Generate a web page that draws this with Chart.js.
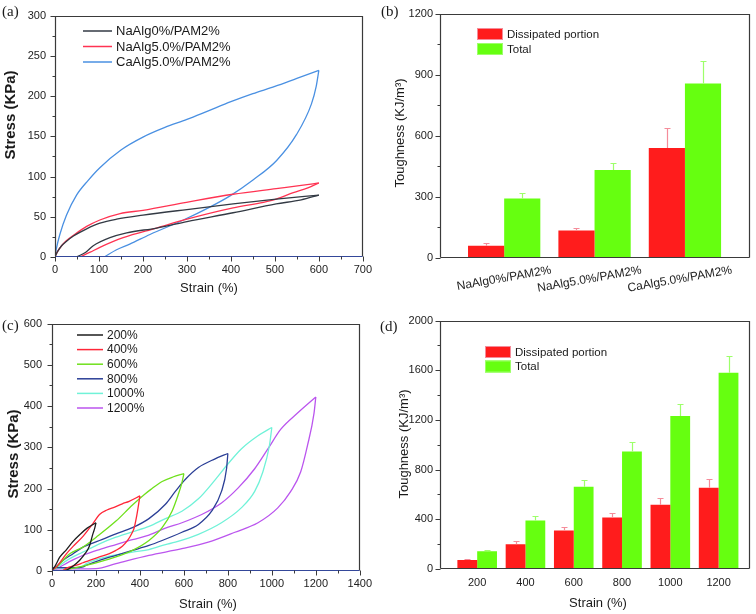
<!DOCTYPE html>
<html><head><meta charset="utf-8">
<script src="https://cdn.jsdelivr.net/npm/chart.js@4.4.1/dist/chart.umd.min.js"></script>
<style>
html,body{margin:0;padding:0;background:#fff;}
#wrap{position:relative;width:756px;height:614px;overflow:hidden;}
canvas{position:absolute;}
</style></head><body>
<div id="wrap">
<canvas id="ca" width="378" height="307" style="left:0;top:0"></canvas>
<canvas id="cb" width="378" height="307" style="left:378px;top:0"></canvas>
<canvas id="cc" width="378" height="307" style="left:0;top:307px"></canvas>
<canvas id="cd" width="378" height="307" style="left:378px;top:307px"></canvas>
</div>
<script>
// ---------- DATA: panel (a) stress-strain loops ----------
const aSeriesNames = ['NaAlg0%/PAM2%', 'NaAlg5.0%/PAM2%', 'CaAlg5.0%/PAM2%'];
const aNa0UpStrain = [0, 5, 15, 25, 42, 72, 102, 140, 200, 300, 405, 503, 600];
const aNa0UpStress = [0, 6, 14, 19, 26, 35, 42, 47, 52, 59, 66, 72, 77];
const aNa0DnStrain = [49, 70, 87, 125, 163, 231, 300, 405, 503, 560, 600];
const aNa0DnStress = [0, 6, 14, 24, 30, 36, 44, 55, 66, 71, 77];
const aNa5UpStrain = [0, 5, 15, 25, 42, 72, 102, 148, 200, 299, 405, 503, 560, 600];
const aNa5UpStress = [0, 6, 14, 20, 27, 38, 46, 54, 58, 68, 78, 85, 89, 92];
const aNa5DnStrain = [57, 80, 102, 155, 231, 300, 405, 474, 503, 542, 575, 600];
const aNa5DnStress = [0, 6, 12, 24, 36, 47, 61, 68, 72, 80, 86, 92];
const aCa5UpStrain = [0, 3, 11, 26, 49, 75, 102, 150, 200, 250, 300, 350, 400, 450, 500, 550, 600];
const aCa5UpStress = [0, 10, 28, 52, 77, 95, 111, 133, 149, 161, 171, 182, 193, 203, 212, 222, 232];
const aCa5DnStrain = [112, 140, 170, 216, 292, 352, 398, 451, 504, 549, 583, 594, 600];
const aCa5DnStress = [0, 9, 16, 28, 46, 62, 76, 96, 120, 152, 190, 212, 232];

// ---------- DATA: panel (b) toughness ----------
const bCategories = ['NaAlg0%/PAM2%', 'NaAlg5.0%/PAM2%', 'CaAlg5.0%/PAM2%'];
const bDissipated = [60, 135, 540];
const bDissipatedErr = [76, 145, 637];
const bTotal = [292, 432, 857];
const bTotalErr = [320, 465, 966];

// ---------- DATA: panel (c) cyclic loops ----------
const cSeriesNames = ['200%', '400%', '600%', '800%', '1000%', '1200%'];
const c200UpStrain = [0, 14, 36, 66, 96, 130, 160, 200];
const c200UpStress = [2, 12, 34, 52, 72, 90, 104, 117];
const c200DnStrain = [50, 66, 96, 126, 150, 170, 186, 195, 200];
const c200DnStress = [0, 2, 12, 26, 42, 60, 90, 105, 117];
const c400UpStrain = [0, 20, 66, 100, 141, 186, 216, 250, 276, 320, 351, 400];
const c400UpStress = [2, 10, 42, 62, 84, 115, 137, 148, 153, 163, 169, 182];
const c400DnStrain = [50, 66, 111, 141, 171, 216, 261, 291, 320, 344, 364, 374, 384, 392, 400];
const c400DnStress = [1, 7, 14, 20, 26, 34, 42, 50, 60, 74, 92, 105, 130, 155, 182];
const c600UpStrain = [0, 21, 81, 141, 201, 291, 366, 419, 450, 501, 550, 600];
const c600UpStress = [3, 10, 42, 58, 82, 121, 160, 185, 198, 217, 228, 236];
const c600DnStrain = [50, 81, 141, 216, 291, 366, 441, 501, 546, 574, 590, 600];
const c600DnStress = [2, 5, 12, 22, 34, 50, 74, 105, 145, 185, 212, 236];
const c800UpStrain = [0, 18, 51, 96, 141, 216, 291, 366, 441, 516, 561, 606, 666, 742, 800];
const c800UpStress = [2, 10, 26, 42, 58, 74, 90, 105, 127, 162, 193, 222, 251, 272, 285];
const c800DnStrain = [0, 100, 141, 156, 216, 291, 366, 441, 501, 591, 666, 726, 771, 794, 800];
const c800DnStress = [8, 8, 10, 14, 26, 38, 50, 62, 74, 94, 113, 145, 193, 248, 285];
const c1000UpStrain = [0, 14, 36, 81, 141, 216, 291, 366, 441, 516, 591, 666, 742, 801, 861, 937, 1000];
const c1000UpStress = [3, 5, 14, 30, 46, 66, 82, 95, 108, 127, 145, 175, 221, 260, 296, 328, 348];
const c1000DnStrain = [0, 126, 156, 216, 366, 441, 516, 561, 666, 771, 861, 922, 959, 989, 1000];
const c1000DnStress = [7, 8, 18, 30, 46, 52, 64, 70, 89, 117, 153, 193, 240, 304, 348];
const c1200UpStrain = [0, 20, 50, 100, 150, 216, 291, 366, 441, 516, 591, 681, 771, 846, 922, 982, 1041, 1117, 1200];
const c1200UpStress = [3, 5, 14, 28, 40, 52, 64, 76, 87, 104, 117, 137, 165, 201, 248, 296, 344, 383, 422];
const c1200DnStrain = [0, 200, 291, 441, 591, 711, 832, 937, 1027, 1086, 1131, 1162, 1192, 1200];
const c1200DnStress = [5, 6, 18, 38, 54, 70, 94, 117, 153, 193, 240, 304, 383, 422];

// ---------- DATA: panel (d) toughness vs strain ----------
const dStrain = [200, 400, 600, 800, 1000, 1200];
const dDissipated = [72, 199, 310, 414, 517, 655];
const dDissipatedErr = [82, 223, 337, 454, 568, 724];
const dTotal = [143, 390, 663, 947, 1231, 1581];
const dTotalErr = [151, 430, 716, 1021, 1326, 1716];

const barLabels = ['Dissipated portion', 'Total'];

// ---------- STYLE ----------
const FONT = '"Liberation Sans", Arial, Helvetica, sans-serif';
const SERIF = '"Liberation Serif", "Times New Roman", serif';
Chart.defaults.font.family = FONT;
Chart.defaults.color = '#222';
Chart.defaults.animation = false;

const aColors = ['#333a44', '#ff3352', '#4a90e2'];
const cColors = ['#1e1e1e', '#ff2638', '#6fe01c', '#2b3f96', '#70f2d8', '#bb55ee'];
const RED = '#ff1c1c', GREEN = '#66ff10';

function pts(xs, ys) { return xs.map((x, i) => ({ x: x, y: ys[i] })); }
function lineDS(label, xs, ys, color) {
  return { label: label, data: pts(xs, ys), borderColor: color, backgroundColor: color,
    showLine: true, pointRadius: 0, borderWidth: 1.3, cubicInterpolationMode: 'monotone', fill: false };
}
const plain = (v) => String(v);

// frame, minor ticks, legend, titles
const framePlugin = {
  id: 'frame',
  afterDraw(chart, args, o) {
    const ctx = chart.ctx, a = chart.chartArea;
    const L = Math.round(a.left) + 0.5, R = Math.round(a.right) - 0.5;
    const T = Math.round(a.top) + 0.5, B = Math.round(a.bottom) - 0.5;
    ctx.save();
    ctx.lineWidth = 1.2;
    ctx.strokeStyle = '#3a3a3a';
    ctx.beginPath(); ctx.moveTo(L, B); ctx.lineTo(L, T); ctx.lineTo(R, T); ctx.lineTo(R, B); ctx.stroke();
    ctx.strokeStyle = o.bottomColor || '#3a3a3a';
    ctx.beginPath(); ctx.moveTo(L, B); ctx.lineTo(R, B); ctx.stroke();
    ctx.lineWidth = 1;
    ctx.strokeStyle = '#3a3a3a';
    const isMaj = (v, m) => Math.abs(v / m - Math.round(v / m)) < 1e-6;
    if (o.xTicks) {
      const s = chart.scales.x, t = o.xTicks;
      for (let v = s.min; v <= s.max + 1e-9; v += t.minor) {
        const px = Math.round(s.getPixelForValue(v)) + 0.5;
        const len = isMaj(v, t.major) ? 5 : 3;
        ctx.beginPath(); ctx.moveTo(px, B); ctx.lineTo(px, B + len); ctx.stroke();
      }
    }
    if (o.yTicks) {
      const s = chart.scales.y, t = o.yTicks;
      for (let v = s.min; v <= s.max + 1e-9; v += t.minor) {
        const py = Math.round(s.getPixelForValue(v)) + 0.5;
        const len = isMaj(v, t.major) ? 5 : 3;
        ctx.beginPath(); ctx.moveTo(L, py); ctx.lineTo(L - len, py); ctx.stroke();
      }
    }
    (o.titles || []).forEach(t => {
      ctx.save();
      ctx.fillStyle = '#1a1a1a';
      ctx.font = t.font || ('13px ' + FONT);
      ctx.textAlign = t.align || 'center';
      ctx.textBaseline = t.baseline || 'middle';
      ctx.translate(t.x, t.y);
      if (t.rotate) ctx.rotate(t.rotate);
      ctx.fillText(t.text, 0, 0);
      ctx.restore();
    });
    const lg = o.legend;
    if (lg) {
      ctx.font = lg.font;
      ctx.textAlign = 'left';
      ctx.textBaseline = 'middle';
      chart.data.datasets.forEach((ds) => {
        if (ds.legendIndex === undefined) return;
        const y = lg.y + ds.legendIndex * lg.dy;
        if (lg.kind === 'line') {
          ctx.strokeStyle = ds.borderColor; ctx.lineWidth = 1.5;
          ctx.beginPath(); ctx.moveTo(lg.x, y); ctx.lineTo(lg.x + lg.len, y); ctx.stroke();
        } else {
          ctx.fillStyle = ds.backgroundColor;
          ctx.fillRect(lg.x, y - lg.h / 2, lg.len, lg.h);
          ctx.strokeStyle = ds.errColor; ctx.lineWidth = 1;
          ctx.strokeRect(lg.x + 0.5, y - lg.h / 2 + 0.5, lg.len - 1, lg.h - 1);
        }
        ctx.fillStyle = '#1a1a1a';
        ctx.fillText(ds.label, lg.x + lg.len + lg.gap, y + 0.5);
      });
    }
    ctx.restore();
  }
};

const errPlugin = {
  id: 'errbars',
  afterDatasetsDraw(chart) {
    const ctx = chart.ctx, ys = chart.scales.y;
    chart.data.datasets.forEach((ds, i) => {
      if (!ds.errUpper) return;
      const meta = chart.getDatasetMeta(i);
      ctx.save();
      ctx.strokeStyle = ds.errColor; ctx.lineWidth = 1.2;
      meta.data.forEach((bar, j) => {
        const x = Math.round(bar.x) + 0.5;
        const yt = Math.round(ys.getPixelForValue(ds.errUpper[j])) + 0.5;
        ctx.beginPath();
        ctx.moveTo(x, bar.y); ctx.lineTo(x, yt);
        ctx.moveTo(x - 3, yt); ctx.lineTo(x + 3, yt);
        ctx.stroke();
      });
      ctx.restore();
    });
  }
};

function linY(min, max, step, width, pad) {
  return { type: 'linear', min: min, max: max,
    ticks: { stepSize: step, padding: pad, font: { size: 11 }, color: '#222', callback: plain },
    grid: { display: false, drawTicks: false }, border: { display: false },
    afterFit(s) { s.width = width; } };
}
function linX(min, max, step, height, pad) {
  return { type: 'linear', min: min, max: max, offset: false,
    ticks: { stepSize: step, padding: pad, font: { size: 11 }, color: '#222', maxRotation: 0, autoSkip: false, callback: plain },
    grid: { display: false, drawTicks: false, offset: false }, border: { display: false },
    afterFit(s) { s.height = height; } };
}
const STRESS_FONT = 'bold 15px ' + FONT;

// ---------- (a) ----------
(function () {
  const sets = [
    [aNa0UpStrain, aNa0UpStress, aNa0DnStrain, aNa0DnStress],
    [aNa5UpStrain, aNa5UpStress, aNa5DnStrain, aNa5DnStress],
    [aCa5UpStrain, aCa5UpStress, aCa5DnStrain, aCa5DnStress]
  ];
  const datasets = [];
  sets.forEach((s, i) => {
    const up = lineDS(aSeriesNames[i], s[0], s[1], aColors[i]); up.legendIndex = i;
    const dn = lineDS(aSeriesNames[i], s[2], s[3], aColors[i]);
    datasets.push(up, dn);
  });
  new Chart(document.getElementById('ca'), {
    type: 'scatter',
    data: { datasets: datasets },
    options: {
      responsive: false, animation: false,
      layout: { padding: { top: 7, right: 15, left: 0, bottom: 0 } },
      scales: { x: linX(0, 700, 100, 50, 6), y: linY(0, 300, 50, 55, 9) },
      plugins: {
        legend: { display: false }, tooltip: { enabled: false },
        frame: {
          bottomColor: '#34489a',
          xTicks: { major: 100, minor: 50 }, yTicks: { major: 50, minor: 25 },
          legend: { kind: 'line', x: 83, y: 31, dy: 15.5, len: 29, gap: 4, font: '13px ' + FONT },
          titles: [
            { text: 'Stress (KPa)', x: 11, y: 115, rotate: -Math.PI / 2, font: STRESS_FONT },
            { text: 'Strain (%)', x: 209, y: 288 },
            { text: '(a)', x: 2, y: 5, align: 'left', baseline: 'top', font: '15px ' + SERIF }
          ]
        }
      }
    },
    plugins: [framePlugin]
  });
})();

// ---------- (b) ----------
(function () {
  new Chart(document.getElementById('cb'), {
    type: 'bar',
    data: { datasets: [
      { label: barLabels[0], data: bDissipated.map((y, i) => ({ x: i + 1, y: y })), backgroundColor: RED,
        errUpper: bDissipatedErr, errColor: '#f58c9a', legendIndex: 0 },
      { label: barLabels[1], data: bTotal.map((y, i) => ({ x: i + 1, y: y })), backgroundColor: GREEN,
        errUpper: bTotalErr, errColor: '#9dff6a', legendIndex: 1 }
    ] },
    options: {
      responsive: false, animation: false,
      datasets: { bar: { categoryPercentage: 0.8, barPercentage: 1 } },
      layout: { padding: { top: 7, right: 6, left: 0, bottom: 0 } },
      scales: {
        x: { type: 'linear', min: 0.29, max: 3.72, offset: false,
          afterBuildTicks(s) { s.ticks = bCategories.map((c, i) => ({ value: i + 1 })); },
          ticks: { callback: (v, i) => bCategories[i], minRotation: 10, maxRotation: 10, padding: 5,
            labelOffset: 47, autoSkip: false, font: { size: 12 }, color: '#222' },
          grid: { display: false, drawTicks: false, offset: false }, border: { display: false },
          afterFit(s) { s.height = 49; } },
        y: linY(0, 1200, 300, 62, 7)
      },
      plugins: {
        legend: { display: false }, tooltip: { enabled: false },
        frame: {
          yTicks: { major: 300, minor: 150 },
          legend: { kind: 'box', x: 99, y: 34, dy: 15, len: 26, h: 12, gap: 4, font: '11.5px ' + FONT },
          titles: [
            { text: 'Toughness (KJ/m\u00B3)', x: 22, y: 133, rotate: -Math.PI / 2 },
            { text: '(b)', x: 3, y: 5, align: 'left', baseline: 'top', font: '15px ' + SERIF }
          ]
        }
      }
    },
    plugins: [errPlugin, framePlugin]
  });
})();

// ---------- (c) ----------
(function () {
  const sets = [
    [c200UpStrain, c200UpStress, c200DnStrain, c200DnStress],
    [c400UpStrain, c400UpStress, c400DnStrain, c400DnStress],
    [c600UpStrain, c600UpStress, c600DnStrain, c600DnStress],
    [c800UpStrain, c800UpStress, c800DnStrain, c800DnStress],
    [c1000UpStrain, c1000UpStress, c1000DnStrain, c1000DnStress],
    [c1200UpStrain, c1200UpStress, c1200DnStrain, c1200DnStress]
  ];
  const datasets = [];
  sets.forEach((s, i) => {
    const up = lineDS(cSeriesNames[i], s[0], s[1], cColors[i]); up.legendIndex = i;
    const dn = lineDS(cSeriesNames[i], s[2], s[3], cColors[i]);
    datasets.push(up, dn);
  });
  new Chart(document.getElementById('cc'), {
    type: 'scatter',
    data: { datasets: datasets },
    options: {
      responsive: false, animation: false,
      layout: { padding: { top: 12, right: 15, left: 0, bottom: 0 } },
      scales: { x: linX(0, 1400, 200, 43, 6), y: linY(0, 600, 100, 52, 10) },
      plugins: {
        legend: { display: false }, tooltip: { enabled: false },
        frame: {
          bottomColor: '#34489a',
          xTicks: { major: 200, minor: 100 }, yTicks: { major: 100, minor: 50 },
          legend: { kind: 'line', x: 77, y: 28, dy: 14.6, len: 26, gap: 4, font: '12px ' + FONT },
          titles: [
            { text: 'Stress (KPa)', x: 14, y: 147, rotate: -Math.PI / 2, font: STRESS_FONT },
            { text: 'Strain (%)', x: 208, y: 297 },
            { text: '(c)', x: 2, y: 12, align: 'left', baseline: 'top', font: '15px ' + SERIF }
          ]
        }
      }
    },
    plugins: [framePlugin]
  });
})();

// ---------- (d) ----------
(function () {
  new Chart(document.getElementById('cd'), {
    type: 'bar',
    data: { datasets: [
      { label: barLabels[0], data: dDissipated.map((y, i) => ({ x: dStrain[i], y: y })), backgroundColor: RED,
        errUpper: dDissipatedErr, errColor: '#f58c9a', legendIndex: 0 },
      { label: barLabels[1], data: dTotal.map((y, i) => ({ x: dStrain[i], y: y })), backgroundColor: GREEN,
        errUpper: dTotalErr, errColor: '#9dff6a', legendIndex: 1 }
    ] },
    options: {
      responsive: false, animation: false,
      datasets: { bar: { categoryPercentage: 0.82, barPercentage: 1 } },
      layout: { padding: { top: 11, right: 6, left: 0, bottom: 0 } },
      scales: {
        x: { type: 'linear', min: 46, max: 1330, offset: false,
          afterBuildTicks(s) { s.ticks = dStrain.map(v => ({ value: v })); },
          ticks: { callback: (v, i) => String(dStrain[i]), maxRotation: 0, padding: 7, autoSkip: false,
            font: { size: 11 }, color: '#222' },
          grid: { display: false, drawTicks: false, offset: false }, border: { display: false },
          afterFit(s) { s.height = 45; } },
        y: linY(0, 2000, 400, 62, 7)
      },
      plugins: {
        legend: { display: false }, tooltip: { enabled: false },
        frame: {
          yTicks: { major: 400, minor: 200 },
          legend: { kind: 'box', x: 107, y: 45, dy: 14.5, len: 26, h: 12, gap: 4, font: '11.5px ' + FONT },
          titles: [
            { text: 'Toughness (KJ/m\u00B3)', x: 26, y: 137, rotate: -Math.PI / 2 },
            { text: 'Strain (%)', x: 220, y: 296 },
            { text: '(d)', x: 2, y: 13, align: 'left', baseline: 'top', font: '15px ' + SERIF }
          ]
        }
      }
    },
    plugins: [errPlugin, framePlugin]
  });
})();
</script>
</body></html>
